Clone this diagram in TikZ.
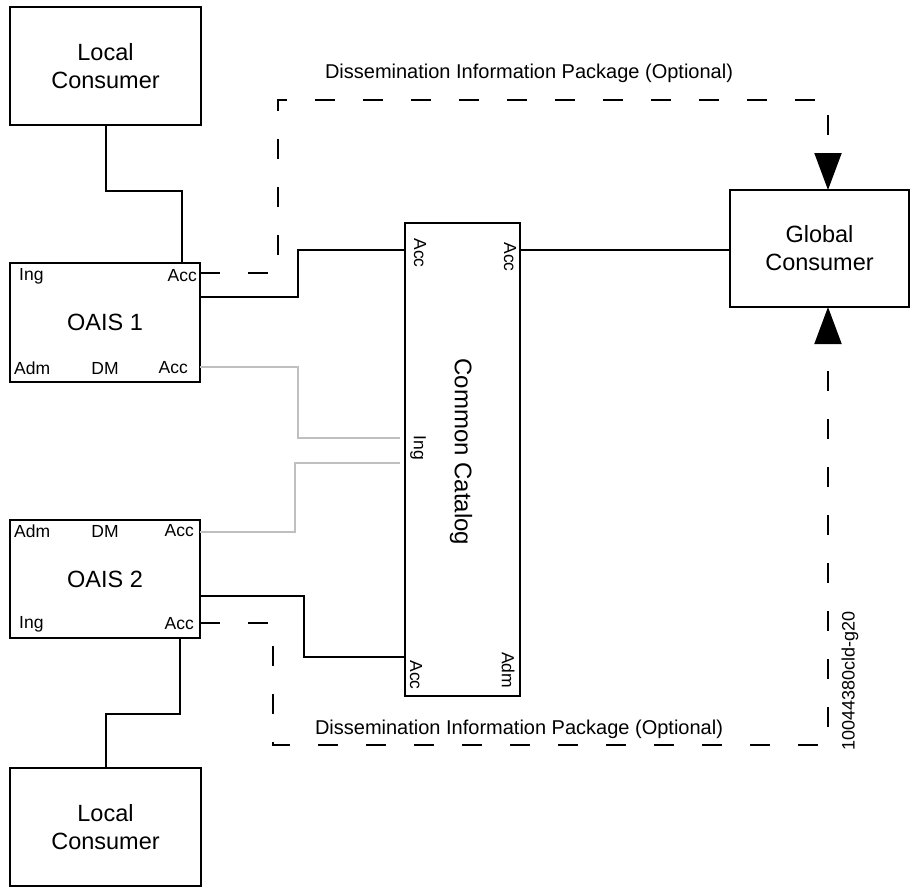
\documentclass[tikz,border=0pt]{standalone}
\usepackage{fontspec}
\setmainfont{Liberation Sans}
\usetikzlibrary{arrows.meta, calc, positioning}

\begin{document}
\begin{tikzpicture}[x=1pt, y=-1pt, >={Triangle[width=27pt, length=37pt]},
    box/.style={draw, line width=2pt, inner sep=0pt, outer sep=0pt,
                align=center, font=\fontsize{23.5}{28}\selectfont},
    port/.style={inner sep=0pt, font=\fontsize{17.5}{20}\selectfont},
    link/.style={line width=2pt},
    ingest/.style={line width=2pt, draw=black!25},
    feed/.style={line width=2pt, dash pattern=on 20pt off 28pt}]
  \useasboundingbox (0,0) rectangle (910,888);

  % Boxes
  \node[box, minimum width=191pt, minimum height=118pt]
    (lc1) at (105.5,66) {Local\\Consumer};
  \node[box, minimum width=190pt, minimum height=119pt]
    (o1) at (105,322.5) {OAIS 1};
  \node[box, minimum width=190pt, minimum height=118pt]
    (o2) at (105,579) {OAIS 2};
  \node[box, minimum width=191pt, minimum height=118pt]
    (lc2) at (105.5,827) {Local\\Consumer};
  \node[box, minimum width=115pt, minimum height=473pt]
    (cat) at (462.5,459.5) {};
  \node[box, minimum width=179pt, minimum height=117pt]
    (gc) at (819.5,248.5) {Global\\Consumer};

  % Port labels
  \node[port, anchor=west] (o1ing) at (19,276) {Ing};
  \node[port, anchor=east] (o1acc) at (197,276) {Acc};
  \node[port, anchor=west] (o1adm) at (14,368) {Adm};
  \node[port] (o1dm) at (105,368) {DM};
  \node[port, anchor=east] (o1acc2) at (188,368) {Acc};
  \node[port, anchor=west] (o2adm) at (14,531) {Adm};
  \node[port] (o2dm) at (105,531) {DM};
  \node[port, anchor=east] (o2acc) at (194,531) {Acc};
  \node[port, anchor=west] (o2ing) at (19,624) {Ing};
  \node[port, anchor=east] (o2acc2) at (194,624) {Acc};
  \node[port, rotate=-90] (cataccA) at (420,253) {Acc};
  \node[port, rotate=-90] (cataccB) at (510,257) {Acc};
  \node[port, rotate=-90] (cating) at (418,448) {Ing};
  \node[port, rotate=-90] (cataccC) at (416,675) {Acc};
  \node[port, rotate=-90] (catadm) at (508,670) {Adm};
  \node[rotate=-90, inner sep=0pt, font=\fontsize{24}{28}\selectfont]
    (catname) at (461,452) {Common Catalog};

  % Package notes
  \node[inner sep=0pt, font=\fontsize{20}{24}\selectfont]
    (dipTop) at (529,73) {Dissemination Information Package (Optional)};
  \node[inner sep=0pt, font=\fontsize{20}{24}\selectfont]
    (dipBot) at (519,729) {Dissemination Information Package (Optional)};
  \node[rotate=90, inner sep=0pt, font=\fontsize{18}{20}\selectfont]
    (figid) at (850,681) {10044380cld-g20};

  % Solid links
  \draw[link] (lc1.south) -- ++(0,66) -| (o1.north -| 182,0);
  \draw[link] (o1.east |- 0,297) -| (298,250) -- (cat.west |- 0,250);
  \draw[link] (cat.east |- 0,250) -- (gc.west |- 0,250);
  \draw[link] (o2.east |- 0,596) -| (304,657) -- (cat.west |- 0,657);
  \draw[link] (o2.south -| 180,0) -- ++(0,76) -| (lc2.north);

  % Ingest links
  \draw[ingest] (o1.east |- 0,367) -| (298,438) -- ([xshift=-5pt]cat.west |- 0,438);
  \draw[ingest] (o2.east |- 0,532) -| (295,463) -- ([xshift=-5pt]cat.west |- 0,463);

  % Optional packages
  \draw[feed, ->] (o1.east |- 0,273) -| (278,100) -| (gc.north -| 828,0);
  \draw[feed, ->] (o2.east |- 0,623) -| (273,745) -| (gc.south -| 828,0);
\end{tikzpicture}
\end{document}
